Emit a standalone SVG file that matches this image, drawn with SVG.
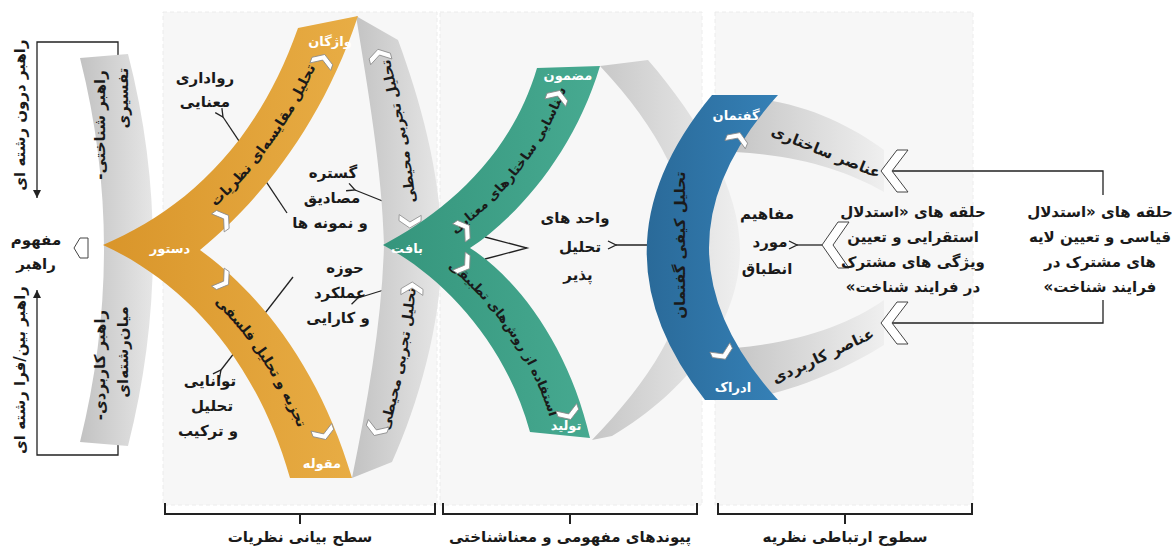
<svg xmlns="http://www.w3.org/2000/svg" width="1172" height="546" viewBox="0 0 1172 546">
<defs>
<style>
.lbl{font-family:"DejaVu Sans","Noto Sans",sans-serif;font-weight:bold;font-size:15px;fill:#1a1a1a;text-anchor:middle;direction:rtl}
.arc{font-family:"DejaVu Sans","Noto Sans",sans-serif;font-weight:bold;font-size:14px;fill:#1a1a1a;text-anchor:middle;direction:rtl;dominant-baseline:central}
.arcs{font-family:"DejaVu Sans","Noto Sans",sans-serif;font-weight:bold;font-size:13px;fill:#1a1a1a;text-anchor:middle;direction:rtl;dominant-baseline:central}
.wl{font-family:"DejaVu Sans","Noto Sans",sans-serif;font-weight:bold;font-size:13px;fill:#ffffff;text-anchor:middle;direction:rtl}
.ln{fill:none;stroke:#222;stroke-width:1.3}
.br{fill:none;stroke:#222;stroke-width:2}
.chev{fill:#fff;stroke:#8a8a8a;stroke-width:0.8}
.hc{fill:#fff;stroke:#444;stroke-width:1}
.panel{fill:#f7f7f7;stroke:#ececec;stroke-width:1;stroke-dasharray:4 3}
</style>
<linearGradient id="gOr" x1="0" y1="0" x2="1" y2="0"><stop offset="0" stop-color="#d9952a"/><stop offset="1" stop-color="#e8ad45"/></linearGradient>
<linearGradient id="gGr" x1="0" y1="0" x2="1" y2="0"><stop offset="0" stop-color="#35957c"/><stop offset="1" stop-color="#47aa91"/></linearGradient>
<linearGradient id="gBl" x1="0" y1="0" x2="1" y2="0"><stop offset="0" stop-color="#2a6a99"/><stop offset="1" stop-color="#3580b6"/></linearGradient>
<linearGradient id="gGy" x1="0" y1="0" x2="1" y2="0"><stop offset="0" stop-color="#c2c2c2"/><stop offset="1" stop-color="#e6e6e6"/></linearGradient>
<linearGradient id="gGyR" x1="0" y1="0" x2="1" y2="0"><stop offset="0" stop-color="#c6c6c6"/><stop offset="1" stop-color="#efefef"/></linearGradient>
<marker id="ao" markerWidth="10" markerHeight="10" refX="1" refY="5" orient="auto-start-reverse" markerUnits="userSpaceOnUse"><path d="M9,1 L1,5 L9,9" fill="none" stroke="#222" stroke-width="1.3"/></marker>
<marker id="af" markerWidth="10" markerHeight="10" refX="9" refY="5" orient="auto" markerUnits="userSpaceOnUse"><path d="M1,1 L9,5 L1,9 Z" fill="#222"/></marker>
<path id="chv" d="M-11,-1 L0,-8 L11,-1 L11,5 L0,-2 L-11,5 Z"/>
<path id="pOrU" d="M151.5,247.5 C217.5,208.5 287.5,140 328,22"/>
<path id="pOrL" d="M151.5,247.5 C221,287.5 287.5,362.5 321,478"/>
<path id="pGyU" d="M413,245 C411,170 394,95 377,28"/>
<path id="pGyL" d="M372,470 C394,400 412,320 413,245"/>
<path id="pGrU" d="M426.5,246.5 C480,215 542.5,155 568.5,67"/>
<path id="pGrL" d="M426.5,246.5 C480,277.5 537.5,345 560,435"/>
</defs>

<rect width="1172" height="546" fill="#ffffff"/>

<g id="panels">
<rect class="panel" x="163" y="12" width="274" height="493"/>
<rect class="panel" x="440" y="12" width="262" height="493"/>
<rect class="panel" x="715" y="12" width="258" height="493"/>
</g>

<g id="connectors">
<path class="ln" d="M118,57 L118,42 L37,42 L37,198" marker-end="url(#af)"/>
<path class="ln" d="M118,441 L118,455 L37,455 L37,290" marker-end="url(#af)"/>
<path class="ln" d="M287,213 L223,117" marker-end="url(#ao)"/>
<path class="ln" d="M293,277 L221,370" marker-end="url(#ao)"/>
<path class="ln" d="M400,208 L355,190" marker-end="url(#ao)"/>
<path class="ln" d="M400,285 L358,298" marker-end="url(#ao)"/>
<path class="ln" d="M485,237 L527,248 L485,259"/>
<path class="ln" d="M725,245 L616,245" marker-end="url(#ao)"/>
<path class="ln" d="M822,245 L797,245" marker-end="url(#ao)"/>
<path class="ln" d="M892,171 L1103,171 L1103,195"/>
<path class="ln" d="M892,323 L1103,323 L1103,300"/>
<path class="br" d="M165,503 L165,514 L435,514 L435,503 M300,514 L300,524"/>
<path class="br" d="M443,503 L443,514 L697,514 L697,503 M570,514 L570,524"/>
<path class="br" d="M718,503 L718,514 L972,514 L972,503 M845,514 L845,524"/>
</g>

<g id="n-rahbar">
<path d="M80,58 L128,54 Q178,248 128,446 L80,442 Q128,248 80,58 Z" fill="url(#gGy)"/>
<text class="lbl" transform="translate(100,125) rotate(-90)" y="5">راهبر شناختی-</text>
<text class="lbl" transform="translate(123,98) rotate(-90)" y="5">تفسیری</text>
<text class="lbl" transform="translate(100,365) rotate(-90)" y="5">راهبر کاربردی-</text>
<text class="lbl" transform="translate(123,352) rotate(-90)" y="5">میان‌رشته‌ای</text>
</g>

<g id="n-gray1">
<path d="M356,16 L398,40 C420,100 440,170 442,245 C442,320 420,400 392,462 L352,478 C368,400 382,320 384,245 C382,170 368,90 356,16 Z" fill="url(#gGy)"/>
<text class="arc"><textPath href="#pGyU" startOffset="52%">تحلیل تجربی محیطی</textPath></text>
<text class="arc"><textPath href="#pGyL" startOffset="50%">تحلیل تجربی محیطی</textPath></text>
<use href="#chv" class="chev" transform="translate(380,57) rotate(-15)"/>
<use href="#chv" class="chev" transform="translate(410,220) rotate(182)"/>
<use href="#chv" class="chev" transform="translate(412,290) rotate(2)"/>
<use href="#chv" class="chev" transform="translate(377,428) rotate(200)"/>
</g>

<g id="n-orange">
<path d="M103,245 C180,212 255,150 298,28 L358,16 C320,130 255,205 200,250 C262,295 320,370 352,478 L290,478 C255,355 180,280 103,245 Z" fill="url(#gOr)"/>
<text class="arc"><textPath href="#pOrU" startOffset="55%">تحلیل مقایسه‌ای نظریات</textPath></text>
<text class="arc"><textPath href="#pOrL" startOffset="55%">تجزیه و تحلیل فلسفی</textPath></text>
<text class="wl" x="330" y="46">واژگان</text>
<text class="wl" x="170" y="253">دستور</text>
<text class="wl" x="322" y="468">مقوله</text>
<use href="#chv" class="chev" transform="translate(322,62) rotate(20)"/>
<use href="#chv" class="chev" transform="translate(222,220) rotate(55)"/>
<use href="#chv" class="chev" transform="translate(222,280) rotate(125)"/>
<use href="#chv" class="chev" transform="translate(323,432) rotate(160)"/>
</g>

<g id="n-gray2">
<path d="M600,66 L648,60 C700,120 740,190 740,250 C740,320 690,390 612,436 L592,440 C650,380 690,320 690,250 C690,190 660,130 600,66 Z" fill="url(#gGyR)"/>
</g>

<g id="n-green">
<path d="M383,245 C440,215 510,160 537,68 L600,66 C575,150 520,215 470,248 C520,280 570,350 590,438 L530,432 C505,340 440,275 383,245 Z" fill="url(#gGr)"/>
<text class="arcs"><textPath href="#pGrU" startOffset="52%">شناسایی ساختارهای معنایی</textPath></text>
<text class="arcs"><textPath href="#pGrL" startOffset="52%">استفاده از روش‌های تطبیقی</textPath></text>
<text class="wl" x="568" y="80">مضمون</text>
<text class="wl" x="407" y="253">بافت</text>
<text class="wl" x="566" y="430">تولید</text>
<use href="#chv" class="chev" transform="translate(557,98) rotate(20)"/>
<use href="#chv" class="chev" transform="translate(463,230) rotate(55)"/>
<use href="#chv" class="chev" transform="translate(463,264) rotate(125)"/>
<use href="#chv" class="chev" transform="translate(568,412) rotate(160)"/>
</g>

<g id="n-sakhtari">
<path d="M742,98 C800,100 850,125 884,150 L884,192 C845,170 800,156 735,152 Z" fill="url(#gGyR)"/>
<text class="lbl" transform="translate(826,152) rotate(22)" y="5">عناصر ساختاری</text>
</g>

<g id="n-karbordi">
<path d="M735,348 C800,342 848,325 884,300 L884,345 C850,366 805,388 745,400 Z" fill="url(#gGyR)"/>
<text class="lbl" transform="translate(823,356) rotate(-25)" y="5">عناصر کاربردی</text>
</g>

<g id="n-blue">
<path d="M712,95 L778,95 Q640,248 778,400 L705,400 Q585,248 712,95 Z" fill="url(#gBl)"/>
<text class="lbl" transform="translate(680,245) rotate(-90)" y="5">تحلیل کیفی گفتمان</text>
<text class="wl" x="736" y="120">گفتمان</text>
<text class="wl" x="733" y="392">ادراک</text>
<use href="#chv" class="chev" transform="translate(737,140) rotate(22)"/>
<use href="#chv" class="chev" transform="translate(722,352) rotate(155)"/>
</g>

<g id="n-chevrons">
<polygon class="hc" points="74,248 80,238 88,238 88,258 80,258"/>
<polygon class="hc" points="881,171 897,150 908,150 892,171 908,192 897,192"/>
<polygon class="hc" points="881,323 897,302 908,302 892,323 908,344 897,344"/>
<polygon class="hc" points="822,245 838,222 849,222 833,245 849,268 838,268"/>
</g>

<g id="n-labels">
<text class="lbl" transform="translate(20,115) rotate(-90)" y="5">راهبر درون رشته ای</text>
<text class="lbl" transform="translate(20,370) rotate(-90)" y="5">راهبر بین/فرا رشته ای</text>
<text class="lbl" x="36" y="245">مفهوم</text>
<text class="lbl" x="36" y="269">راهبر</text>
<text class="lbl" x="205" y="83">رواداری</text>
<text class="lbl" x="205" y="107">معنایی</text>
<text class="lbl" x="333" y="178">گستره</text>
<text class="lbl" x="332" y="203">مصادیق</text>
<text class="lbl" x="330" y="228">و نمونه ها</text>
<text class="lbl" x="345" y="273">حوزه</text>
<text class="lbl" x="340" y="298">عملکرد</text>
<text class="lbl" x="338" y="323">و کارایی</text>
<text class="lbl" x="210" y="386">توانایی</text>
<text class="lbl" x="212" y="411">تحلیل</text>
<text class="lbl" x="208" y="436">و ترکیب</text>
<text class="lbl" x="575" y="223">واحد های</text>
<text class="lbl" x="580" y="252">تحلیل</text>
<text class="lbl" x="578" y="280">پذیر</text>
<text class="lbl" x="767" y="219">مفاهیم</text>
<text class="lbl" x="770" y="247">مورد</text>
<text class="lbl" x="767" y="274">انطباق</text>
<text class="lbl" x="913" y="217">حلقه های «استدلال</text>
<text class="lbl" x="913" y="242">استقرایی و تعیین</text>
<text class="lbl" x="913" y="267">ویژگی های مشترک</text>
<text class="lbl" x="913" y="292">در فرایند شناخت»</text>
<text class="lbl" x="1100" y="217">حلقه های «استدلال</text>
<text class="lbl" x="1100" y="242">قیاسی و تعیین لایه</text>
<text class="lbl" x="1100" y="267">های مشترک در</text>
<text class="lbl" x="1100" y="292">فرایند شناخت»</text>
<text class="lbl" x="300" y="542">سطح بیانی نظریات</text>
<text class="lbl" x="570" y="542">پیوندهای مفهومی و معناشناختی</text>
<text class="lbl" x="845" y="542">سطوح ارتباطی نظریه</text>
</g>
</svg>
